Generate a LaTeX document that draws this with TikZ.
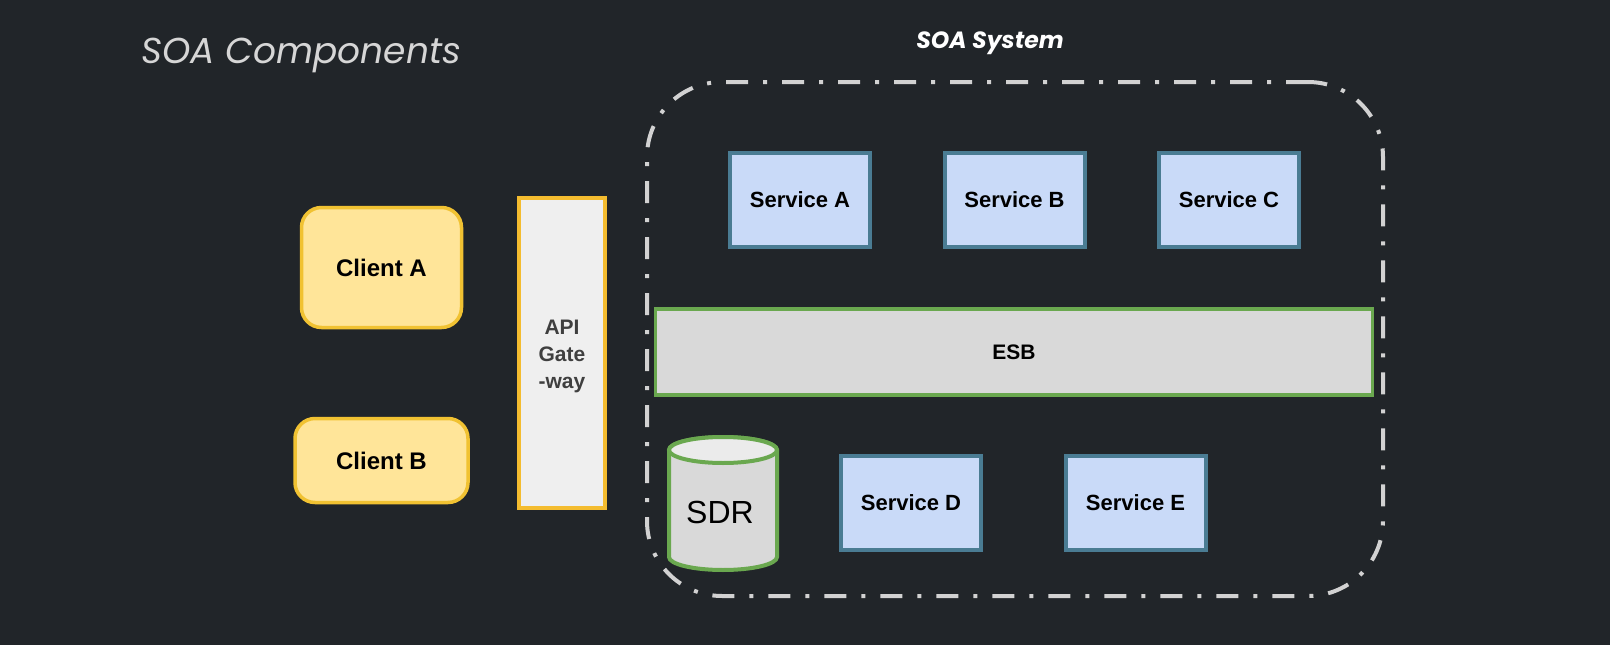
\documentclass[tikz,border=0pt]{standalone}
\usepackage{fontspec}
\setmainfont{Liberation Sans}
\newfontfamily\titlefont{Poppins}
\definecolor{bgc}{HTML}{212529}
\definecolor{clifill}{HTML}{FFE599}
\definecolor{cliline}{HTML}{F1C232}
\definecolor{apifill}{HTML}{EFEFEF}
\definecolor{apiline}{HTML}{F4BC2F}
\definecolor{svcfill}{HTML}{C9DAF8}
\definecolor{svcline}{HTML}{4A7C93}
\definecolor{esbfill}{HTML}{D9D9D9}
\definecolor{grn}{HTML}{6AA84F}
\definecolor{cyltop}{HTML}{EBEBEB}
\definecolor{frame}{HTML}{D2D2D2}
\definecolor{ttl}{HTML}{D6D6D6}
\definecolor{apitxt}{HTML}{3F3F3F}
\begin{document}
\begin{tikzpicture}[x=1pt,y=1pt,
  client/.style={draw=cliline, fill=clifill, line width=3.5pt, rounded corners=20pt,
    font=\bfseries\fontsize{24}{28}\selectfont, text=black, inner sep=0pt},
  svc/.style={draw=svcline, fill=svcfill, line width=4pt, minimum width=140pt, minimum height=94pt,
    font=\bfseries\fontsize{22}{26}\selectfont, text=black, inner sep=0pt},
  framebox/.style={draw=frame, line width=4pt, rounded corners=75pt,
    dash pattern=on 22pt off 15pt on 4pt off 15pt, inner sep=0pt}]
\fill[bgc] (0,0) rectangle (1610,-645);
\useasboundingbox (0,0) rectangle (1610,-645);

\node[font=\titlefont\itshape\fontsize{36}{44}\selectfont, text=ttl, anchor=base west, inner sep=0pt]
  (title) at (141,-63) {SOA Components};
\node[font=\titlefont\bfseries\itshape\fontsize{23.5}{28}\selectfont, text=white, anchor=base, inner sep=0pt]
  (systitle) at (990,-48) {SOA System};

\node[framebox, minimum width=736pt, minimum height=514pt] (soa) at (1015,-339) {};

\node[client, minimum width=160pt, minimum height=120pt] (clienta) at (381.5,-267.5) {Client A};
\node[client, minimum width=173pt, minimum height=84pt] (clientb) at (381.5,-460.5) {Client B};

\node[draw=apiline, fill=apifill, line width=4pt, minimum width=86pt, minimum height=310pt, inner sep=0pt]
  (api) at (562,-353) {};
\node[font=\bfseries\fontsize{21}{27}\selectfont, text=apitxt, align=center, inner sep=0pt]
  (apilabel) at (562,-356) {API\\Gate\\-way};

\node[svc] (sa) at (800,-200) {Service A};
\node[svc] (sb) at (1014.5,-200) {Service B};
\node[svc] (sc) at (1229,-200) {Service C};

\node[draw=grn, fill=esbfill, line width=3.5pt, minimum width=717pt, minimum height=86pt,
  font=\bfseries\fontsize{21}{25}\selectfont, text=black, inner sep=0pt] (esb) at (1014,-352) {ESB};

\node[svc] (sd) at (911,-503) {Service D};
\node[svc] (se) at (1135.5,-503) {Service E};

% SDR cylinder
\draw[draw=grn, fill=esbfill, line width=4pt]
  (669,-450) -- (669,-557) arc[start angle=180, end angle=360, x radius=54, y radius=13]
  -- (777,-450) arc[start angle=0, end angle=180, x radius=54, y radius=13] -- cycle;
\draw[draw=grn, fill=cyltop, line width=4pt] (723,-450) ellipse[x radius=54, y radius=13];
\node[font=\fontsize{32}{36}\selectfont, text=black, inner sep=0pt] (sdr) at (720,-512) {SDR};
\end{tikzpicture}
\end{document}
